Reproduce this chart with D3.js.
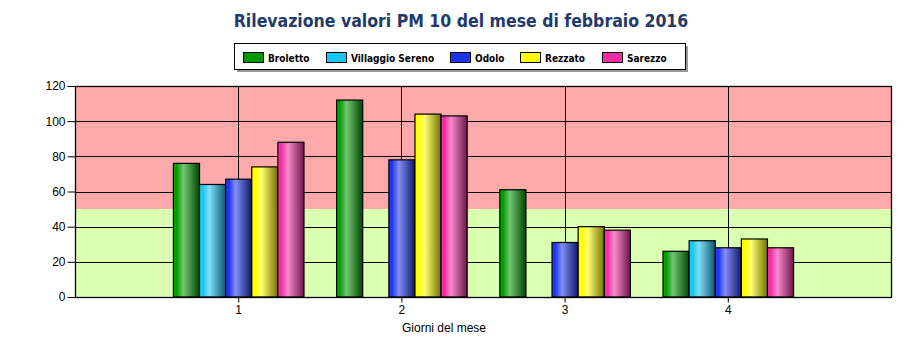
<!DOCTYPE html>
<html>
<head>
<meta charset="utf-8">
<script src="https://cdn.jsdelivr.net/npm/d3@7"></script>
<style>
  body { margin: 0; background: #fff; }
  text { font-family: "Liberation Sans", Arial, sans-serif; }
</style>
</head>
<body>
<div id="chart"></div>
<script>
// data
const days = [1, 2, 3, 4];
const stations = ["Broletto", "Villaggio Sereno", "Odolo", "Rezzato", "Sarezzo"];
const broletto = [76, 112, 61, 26];
const villaggio = [64, null, null, 32];
const odolo = [67, 78, 31, 28];
const rezzato = [74, 104, 40, 33];
const sarezzo = [88, 103, 38, 28];
const yTicks = [0, 20, 40, 60, 80, 100, 120];
const limit = 50;

const series = [broletto, villaggio, odolo, rezzato, sarezzo];
const colors = ["#009a00", "#18c4f2", "#1e34ec", "#ffff00", "#f22ca2"];

const W = 920, H = 350;
const margin = { top: 86, right: 29, bottom: 53, left: 75 };

const svg = d3.select("#chart").append("svg")
  .attr("width", W).attr("height", H);

// gradients for the cylinder look of the bars
const defs = svg.append("defs");
colors.forEach((c, i) => {
  const base = d3.rgb(c);
  const light = d3.interpolateRgb(c, "#ffffff")(0.45);
  const dark = d3.interpolateRgb(c, "#000000")(0.55);
  const g = defs.append("linearGradient").attr("id", "grad" + i)
    .attr("x1", "0%").attr("x2", "100%").attr("y1", "0%").attr("y2", "0%");
  g.append("stop").attr("offset", "0%").attr("stop-color", base.brighter(0.3));
  g.append("stop").attr("offset", "12%").attr("stop-color", base);
  g.append("stop").attr("offset", "38%").attr("stop-color", light);
  g.append("stop").attr("offset", "100%").attr("stop-color", dark);
});

const x = d3.scaleLinear().domain([0, 5]).range([margin.left, W - margin.right]);
const y = d3.scaleLinear().domain([0, 120]).range([H - margin.bottom, margin.top]);

// background bands
svg.append("rect")
  .attr("x", x(0)).attr("width", x(5) - x(0))
  .attr("y", y(120)).attr("height", y(limit) - y(120))
  .attr("fill", "#ffaaaa");
svg.append("rect")
  .attr("x", x(0)).attr("width", x(5) - x(0))
  .attr("y", y(limit)).attr("height", y(0) - y(limit))
  .attr("fill", "#dbffb1");

// grid
svg.append("g").selectAll("line").data(yTicks.slice(1, -1)).join("line")
  .attr("x1", x(0)).attr("x2", x(5))
  .attr("y1", d => Math.round(y(d)) + 0.5).attr("y2", d => Math.round(y(d)) + 0.5)
  .attr("stroke", "#000");
svg.append("g").selectAll("line").data(days).join("line")
  .attr("x1", d => Math.round(x(d)) + 0.5).attr("x2", d => Math.round(x(d)) + 0.5)
  .attr("y1", y(120)).attr("y2", y(0))
  .attr("stroke", "#000");

// bars
const bw = (x(1) - x(0)) * 0.8 / stations.length;
series.forEach((vals, si) => {
  svg.append("g").selectAll("rect")
    .data(days.map((d, i) => ({ day: d, v: vals[i] })).filter(d => d.v != null))
    .join("rect")
    .attr("x", d => x(d.day) + 0.5 + (si - stations.length / 2) * bw)
    .attr("width", bw)
    .attr("y", d => y(d.v))
    .attr("height", d => y(0) - y(d.v))
    .attr("fill", "url(#grad" + si + ")")
    .attr("stroke", "#000")
    .attr("stroke-width", 1.2);
});

// frame
svg.append("rect")
  .attr("x", x(0) + 0.5).attr("y", y(120) + 0.5)
  .attr("width", x(5) - x(0)).attr("height", y(0) - y(120))
  .attr("fill", "none").attr("stroke", "#000").attr("stroke-width", 1.3);

// axes
const yAxis = svg.append("g")
  .attr("transform", "translate(" + (x(0) + 0.5) + ",0)")
  .call(d3.axisLeft(y).tickValues(yTicks).tickSize(8).tickPadding(2));
const xAxis = svg.append("g")
  .attr("transform", "translate(0," + (y(0) + 0.5) + ")")
  .call(d3.axisBottom(x).tickValues(days).tickFormat(d3.format("d")).tickSize(5).tickPadding(3));
[yAxis, xAxis].forEach(a => {
  a.select(".domain").remove();
  a.selectAll("line").attr("stroke", "#000");
  a.selectAll("text").attr("fill", "#000")
    .style("font-family", "'Liberation Sans', Arial, sans-serif")
    .style("font-size", "12px");
});

svg.append("text")
  .attr("x", 444).attr("y", 332)
  .attr("text-anchor", "middle")
  .style("font-size", "12px")
  .attr("fill", "#000")
  .text("Giorni del mese");

// title
svg.append("text")
  .attr("x", 461).attr("y", 27)
  .attr("text-anchor", "middle")
  .style("font-family", "'DejaVu Sans Condensed', 'DejaVu Sans', sans-serif")
  .style("font-weight", "bold")
  .style("font-size", "17.5px")
  .attr("fill", "#1f3a6b")
  .text("Rilevazione valori PM 10 del mese di febbraio 2016");

// legend
const legX = [243, 326, 450, 520, 602];
svg.append("rect").attr("x", 237).attr("y", 46).attr("width", 451).attr("height", 26)
  .attr("fill", "#999");
svg.append("rect").attr("x", 234.5).attr("y", 43.5).attr("width", 451).attr("height", 26)
  .attr("fill", "#fff").attr("stroke", "#000");
const leg = svg.append("g").selectAll("g").data(stations).join("g")
  .attr("transform", (d, i) => "translate(" + legX[i] + ",52)");
leg.append("rect").attr("x", 0.5).attr("y", 0.5).attr("width", 20).attr("height", 10)
  .attr("fill", (d, i) => colors[i]).attr("stroke", "#000");
leg.append("text").attr("x", 25).attr("y", 9.5)
  .style("font-family", "'DejaVu Sans Condensed', 'DejaVu Sans', sans-serif")
  .style("font-weight", "bold")
  .style("font-size", "10px")
  .attr("fill", "#000")
  .text(d => d);
</script>
</body>
</html>
